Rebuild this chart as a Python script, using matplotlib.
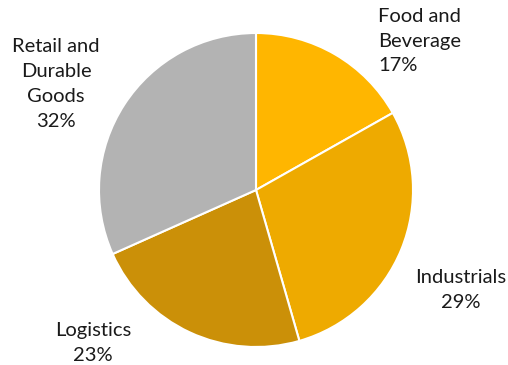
import matplotlib.pyplot as plt

sectors = ["Food and\nBeverage", "Industrials", "Logistics", "Retail and\nDurable\nGoods"]
shares = [17, 29, 23, 32]
colors = ["#FFB600", "#EEAA00", "#CB9008", "#B3B3B3"]

# label anchors in image pixels (x, y from top) and alignment
label_pos = [(378, 41, "left"), (461, 290, "center"), (93, 343, "center"), (56, 84, "center")]

plt.rcParams['font.family'] = ['Lato', 'DejaVu Sans']

W, H = 508, 365
fig = plt.figure(figsize=(W / 100, H / 100), dpi=100)
ax = fig.add_axes([0, 0, 1, 1])

ax.pie(shares, colors=colors, startangle=90, counterclock=False,
       center=(256, H - 190), radius=157, frame=True,
       wedgeprops=dict(edgecolor='white', linewidth=1.5))
ax.set_xlim(0, W)
ax.set_ylim(0, H)
ax.axis('off')

for name, val, (x, y, ha) in zip(sectors, shares, label_pos):
    ax.text(x, H - y, f"{name}\n{val}%", ha=ha, va='center', fontsize=14.5,
            linespacing=1.55, color='#1a1a1a')

fig.savefig("out.png", dpi=100)
